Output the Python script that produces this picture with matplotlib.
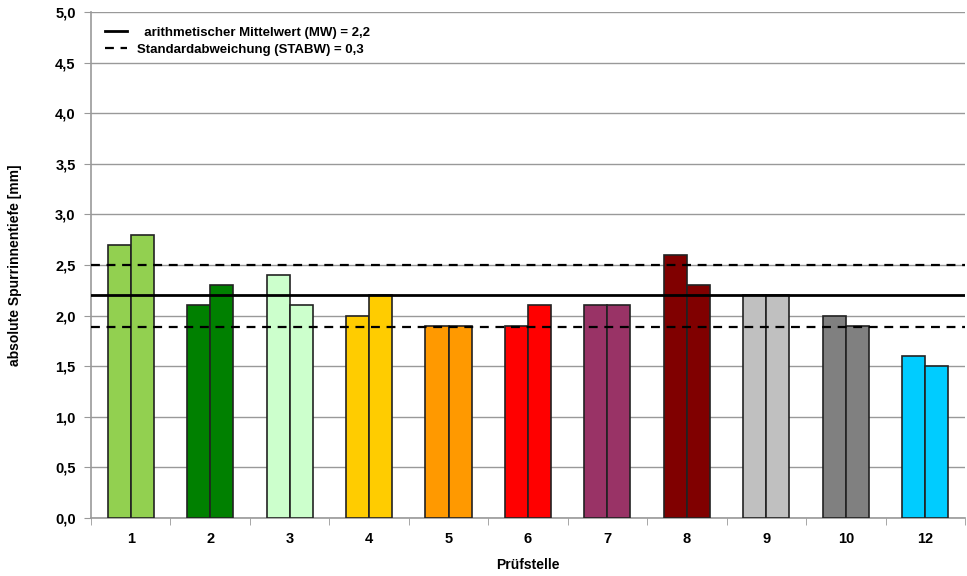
import numpy as np
import matplotlib.pyplot as plt

plt.rcParams['font.family'] = ['Liberation Sans', 'DejaVu Sans']
plt.rcParams['font.weight'] = 'bold'

stellen = ['1', '2', '3', '4', '5', '6', '7', '8', '9', '10', '12']
messung_a = [2.7, 2.1, 2.4, 2.0, 1.9, 1.9, 2.1, 2.6, 2.2, 2.0, 1.6]
messung_b = [2.8, 2.3, 2.1, 2.2, 1.9, 2.1, 2.1, 2.3, 2.2, 1.9, 1.5]
farben = ['#92D050', '#008000', '#CCFFCC', '#FFCC00', '#FF9900', '#FF0000',
          '#993366', '#800000', '#C0C0C0', '#808080', '#00CCFF']
mw = 2.2
stabw = 0.30

fig = plt.figure(figsize=(9.67, 5.76), dpi=100)
ax = fig.add_axes([0.094, 0.101, 0.904, 0.878])

x = np.arange(len(stellen))
w = 0.29
ax.bar(x - w/2, messung_a, w, color=farben, edgecolor='#222222', linewidth=1.2, zorder=3)
ax.bar(x + w/2, messung_b, w, color=farben, edgecolor='#222222', linewidth=1.2, zorder=3)

ax.axhline(mw, color='black', lw=2, zorder=4, label='  arithmetischer Mittelwert (MW) = 2,2')
ax.axhline(mw + stabw, color='black', lw=1.6, ls=(0, (4, 3)), zorder=4,
           label='Standardabweichung (STABW) = 0,3')
ax.axhline(mw - stabw - 0.01, color='black', lw=1.6, ls=(0, (4, 3)), zorder=4)

ax.set_xlim(-0.5, len(stellen) - 0.5)
ax.set_ylim(0, 5)
yt = np.arange(0, 5.01, 0.5)
ax.set_yticks(yt)
ax.set_yticklabels([f'{v:.1f}'.replace('.', ',') for v in yt], fontsize=10.5, fontweight='bold')
ax.set_xticks(x)
ax.set_xticklabels(stellen, fontsize=10.5, fontweight='bold')
ax.set_xticks(np.arange(len(stellen) + 1) - 0.5, minor=True)
ax.tick_params(axis='x', which='major', length=0, pad=10)
ax.tick_params(axis='x', which='minor', length=5, color='#999999', direction='out')
ax.tick_params(axis='y', length=5, color='#999999', direction='out', pad=6)

ax.grid(axis='y', color='#999999', lw=1, zorder=0)
for s in ['top', 'right']:
    ax.spines[s].set_visible(False)
for s in ['left', 'bottom']:
    ax.spines[s].set_color('#999999')
    ax.spines[s].set_linewidth(1.2)

ax.set_xlabel('Prüfstelle', fontsize=10, fontweight='bold', labelpad=9)
ax.set_ylabel('absolute Spurrinnentiefe [mm]', fontsize=10, fontweight='bold', labelpad=24)

leg = ax.legend(loc='upper left', frameon=False, fontsize=9.5, handlelength=1.6,
                borderaxespad=0.7, labelspacing=0.35, handletextpad=0.8)
for t in leg.get_texts():
    t.set_fontweight('bold')

plt.savefig('out.png', dpi=100)
